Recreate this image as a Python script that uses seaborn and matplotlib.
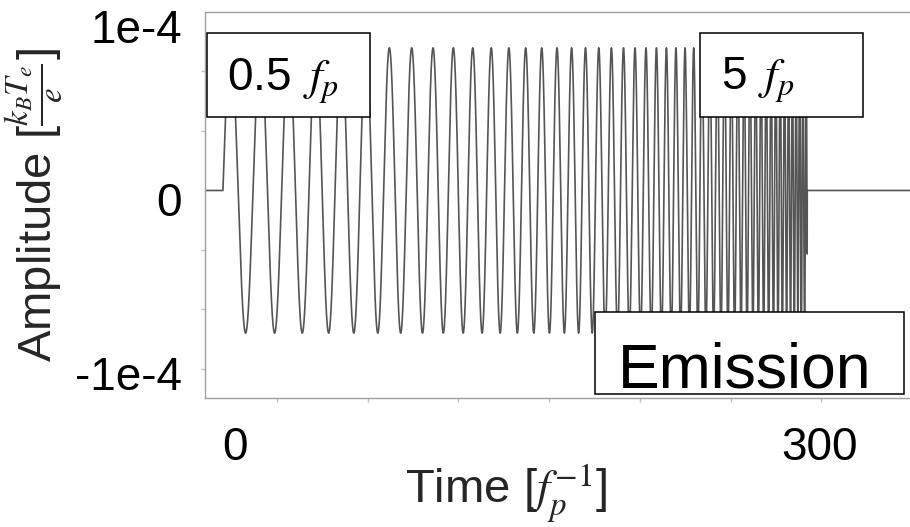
import numpy as np
import pandas as pd
import matplotlib
matplotlib.use("Agg")
import matplotlib.pyplot as plt
import matplotlib.transforms as mtransforms
from matplotlib.patches import Rectangle
import seaborn as sns

# Drive pulse: a chirp whose period shrinks linearly from the low to the high frequency
pulse_window = [0.0, 300.0]      # start / end of the drive, in 1/f_p
freq_range = [0.5, 5.0]          # drive frequency at start / end, in f_p
period_scale = 7.9               # oscillation period (time units) = period_scale / frequency
amplitude = 0.82e-4              # peak amplitude, k_B T_e / e
time_span = [-9.2, 352.8]        # visible time window
amp_span = [-1.193e-4, 1.026e-4]

x_ticks = [0, 300]
x_ticklabels = ["0", "300"]
y_ticks = [1e-4, 0, -1e-4]
y_ticklabels = ["1e-4", "0", "-1e-4"]
box_labels = [r"0.5 $\,f_p$", r"5 $\,f_p$", "Emission"]

# ---- waveform -------------------------------------------------------------
t = np.linspace(time_span[0], time_span[1], 40001)
p0 = period_scale / freq_range[0]
p1 = period_scale / freq_range[1]
duration = pulse_window[1] - pulse_window[0]
slope = (p1 - p0) / duration
tau = t - pulse_window[0]
inside = (tau >= 0) & (tau <= duration)
period = p0 + slope * np.clip(tau, 0, duration)
phase = 2 * np.pi / slope * np.log(period / p0)
signal = np.where(inside, amplitude * np.sin(phase), 0.0)
df = pd.DataFrame({"time": t, "amplitude": signal})

# ---- figure ---------------------------------------------------------------
sns.set_theme(style="white")
plt.rcParams["font.family"] = ["Liberation Sans", "DejaVu Sans"]
plt.rcParams["mathtext.fontset"] = "stix"

W, H = 910, 527
fig = plt.figure(figsize=(W / 100, H / 100), dpi=100)
ax = fig.add_axes([205 / W, (H - 398) / H, (W - 205) / W, (398 - 12) / H])

sns.lineplot(data=df, x="time", y="amplitude", ax=ax, color="#555555",
             linewidth=1.2, estimator=None, sort=False)

ax.set_xlim(*time_span)
ax.set_ylim(*amp_span)

for side in ["left", "top", "bottom"]:
    ax.spines[side].set_color("#a0a0a0")
    ax.spines[side].set_linewidth(1.0)
ax.spines["right"].set_visible(False)

ax.set_xticks(x_ticks)
ax.set_xticklabels(x_ticklabels)
ax.set_yticks(y_ticks)
ax.set_yticklabels(y_ticklabels)
ax.set_xticks(np.arange(27.7, time_span[1], 46.6), minor=True)
ax.set_yticks(np.arange(-3, 3) * 0.342e-4, minor=True)

ax.tick_params(axis="both", which="major", length=0, labelsize=33, colors="black")
ax.tick_params(axis="x", which="major", pad=20)
ax.tick_params(axis="y", which="major", pad=16.6)
ax.tick_params(axis="both", which="minor", length=3, width=1.0,
               color="#c0c0c0", direction="out", bottom=True, left=True)

# tick labels sit slightly right / below their tick positions
for tick in ax.xaxis.get_major_ticks():
    tick.label1.set_transform(tick.label1.get_transform() +
                              mtransforms.ScaledTranslation(0.12, 0, fig.dpi_scale_trans))
for tick in ax.yaxis.get_major_ticks():
    tick.label1.set_transform(tick.label1.get_transform() +
                              mtransforms.ScaledTranslation(0, -0.09, fig.dpi_scale_trans))

ax.set_xlabel(r"Time [$f_p^{-1}$]", fontsize=34)
ax.xaxis.set_label_coords(0.428, -0.165)
ax.set_ylabel(r"Amplitude [$\frac{k_B T_e}{e}$]", fontsize=34, va="baseline")
ax.yaxis.set_label_coords(-0.217, 0.50)


def fig_xy(x, y):
    return x / W, 1 - y / H


# labelled boxes: (frame left, top, right, bottom), text anchor, font size
boxes = [
    ((207, 33, 370, 117), (227, 91), 33),
    ((700, 33, 863, 117), (721, 90), 33),
    ((595, 312, 904, 394), (618, 387), 45),
]

for label, ((x0, y0, x1, y1), (tx, ty), fs) in zip(box_labels, boxes):
    fx0, fy1 = fig_xy(x0, y1)
    rect = Rectangle((fx0, fy1), (x1 - x0) / W, (y1 - y0) / H,
                     transform=fig.transFigure, facecolor="white",
                     edgecolor="black", linewidth=1.1, zorder=5)
    fig.add_artist(rect)
    fx, fy = fig_xy(tx, ty)
    fig.text(fx, fy, label, fontsize=fs, ha="left", va="baseline",
             color="black", zorder=6)

fig.savefig("out.png", dpi=100)
